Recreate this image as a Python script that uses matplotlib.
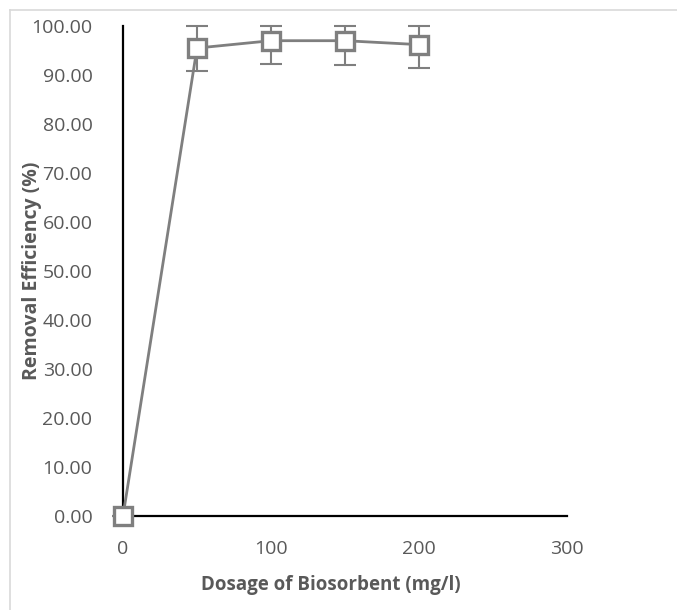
import matplotlib
matplotlib.use("Agg")
import matplotlib.pyplot as plt
from matplotlib.lines import Line2D

dosage = [0, 50, 100, 150, 200]
efficiency = [0.0, 95.5, 97.0, 97.0, 96.2]
err_lower = [0.0, 4.7, 4.8, 4.9, 4.8]
err_upper = [0.0, 4.5, 3.0, 3.0, 3.8]
x_ticks = [0, 100, 200, 300]
y_ticks = [0, 10, 20, 30, 40, 50, 60, 70, 80, 90, 100]

plt.rcParams['font.family'] = ['Open Sans', 'DejaVu Sans']

fig = plt.figure(figsize=(6.77, 6.10), dpi=100)
L, R, B, T = 123, 567, 516, 26
ax = fig.add_axes([L/677, 1-B/610, (R-L)/677, (B-T)/610])

gray = '#7f7f7f'
ax.errorbar(dosage, efficiency, yerr=[err_lower, err_upper], fmt='none',
            ecolor=gray, elinewidth=1.5, capsize=8, capthick=1.5, clip_on=False, zorder=2)
ax.plot(dosage, efficiency, color=gray, lw=2, marker='s', markersize=12.5,
        markerfacecolor='white', markeredgecolor=gray, markeredgewidth=2.4,
        clip_on=False, zorder=3)

ax.set_xlim(0, 300)
ax.set_ylim(0, 100)
ax.set_xticks(x_ticks)
ax.set_yticks(y_ticks)
ax.set_yticklabels([f"{v:.2f}" for v in y_ticks])
for s in ['top', 'right']:
    ax.spines[s].set_visible(False)
for s in ['left', 'bottom']:
    ax.spines[s].set_color('black')
    ax.spines[s].set_linewidth(1.6)
ax.tick_params(length=0, labelsize=14, labelcolor='#595959')
ax.tick_params(axis='y', pad=22)
ax.tick_params(axis='x', pad=17)
ax.set_xlabel('Dosage of Biosorbent (mg/l)', fontsize=13.5, fontweight='bold',
              color='#595959', va='center', ha='center')
ax.set_ylabel('Removal Efficiency (%)', fontsize=14, fontweight='bold',
              color='#595959', va='center', ha='center')
ax.xaxis.set_label_coords((331-L)/(R-L), (B-585)/(B-T))
ax.yaxis.set_label_coords((32-L)/(R-L), 0.5)

# light chart border
fig.add_artist(Line2D([10/677, 1], [1-10/610, 1-10/610], color='#d9d9d9', lw=1.2,
                      transform=fig.transFigure))
fig.add_artist(Line2D([10/677, 10/677], [0, 1-10/610], color='#d9d9d9', lw=1.2,
                      transform=fig.transFigure))

fig.savefig('out.png', dpi=100, facecolor='white')
